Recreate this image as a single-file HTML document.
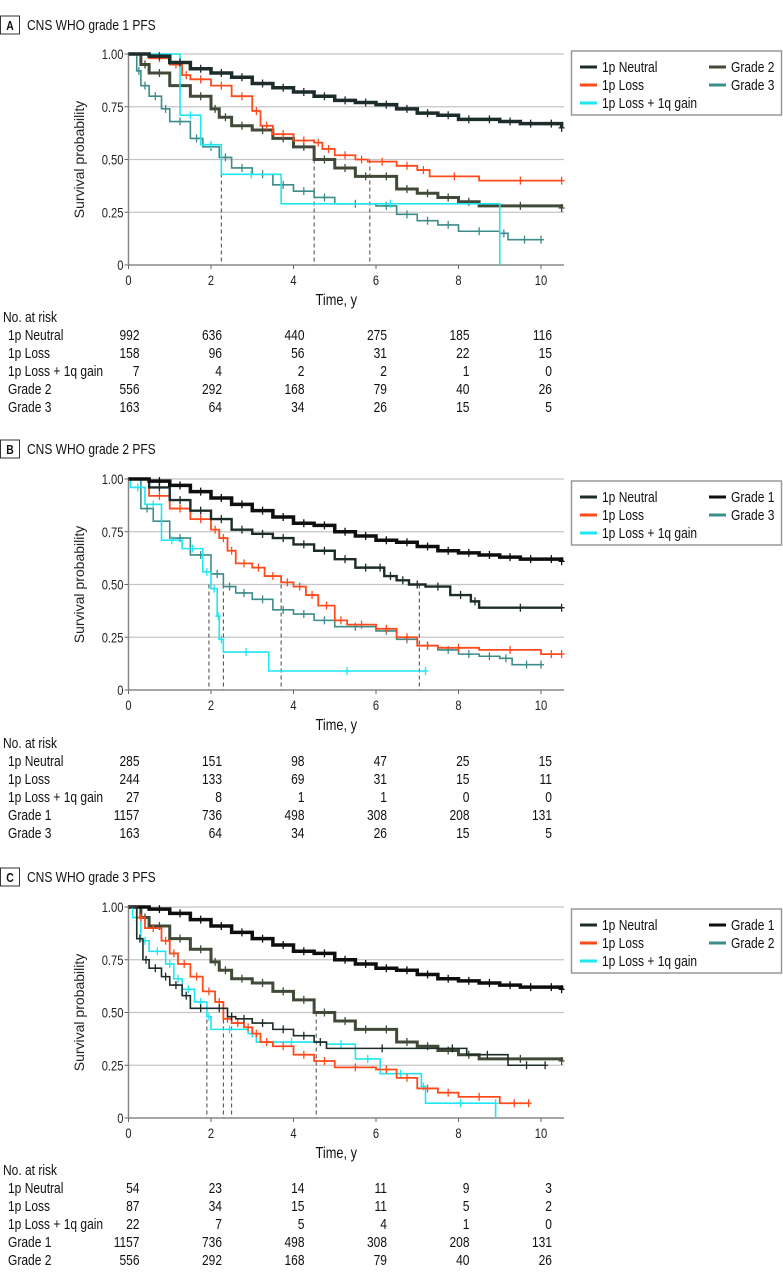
<!DOCTYPE html>
<html><head><meta charset="utf-8">
<style>
html,body{margin:0;padding:0;background:#fff;}
svg{display:block;font-family:"Liberation Sans Narrow","Liberation Sans",sans-serif;}
</style></head>
<body>
<svg id="fig" width="783" height="1277" viewBox="0 0 783 1277" xmlns="http://www.w3.org/2000/svg"></svg>
<script>
// ---------- data ----------
const tickYears = [0,2,4,6,8,10];
const yTickVals = [0,0.25,0.5,0.75,1];
const yTickLabels = ["0","0.25","0.50","0.75","1.00"];

// Panel A
const aNeutralT = [0,0.5,1,1.5,2,2.5,3,3.5,4,4.5,5,5.5,6,6.5,7,7.5,8,8.5,9,9.5,10,10.5];
const aNeutralS = [1,0.99,0.96,0.93,0.91,0.89,0.86,0.84,0.82,0.80,0.78,0.77,0.76,0.74,0.72,0.71,0.69,0.69,0.68,0.67,0.67,0.65];
const aLossT = [0,0.5,1,1.3,1.5,2,2.5,3,3.2,3.5,4,4.5,4.7,5,5.5,5.8,6.5,7,7.3,8.5,10.5];
const aLossS = [1,0.98,0.95,0.90,0.88,0.85,0.80,0.73,0.66,0.62,0.59,0.58,0.55,0.52,0.50,0.49,0.47,0.45,0.42,0.40,0.40];
const aGainT = [0,1.25,1.75,2.25,3.7,9];
const aGainS = [1,0.71,0.57,0.43,0.29,0];
const aG2T = [0,0.3,0.5,1,1.5,2,2.2,2.5,3,3.5,4,4.5,5,5.5,6,6.5,7,7.5,8,8.5,10.5];
const aG2S = [1,0.95,0.91,0.85,0.80,0.74,0.70,0.66,0.64,0.60,0.56,0.50,0.46,0.42,0.42,0.36,0.34,0.32,0.30,0.28,0.27];
const aG3T = [0,0.2,0.3,0.5,0.8,1,1.5,1.8,2.2,2.5,3,3.5,4,4.5,5,6,6.5,7,7.5,8,9,9.2,10];
const aG3S = [1,0.92,0.85,0.80,0.74,0.68,0.60,0.56,0.51,0.46,0.43,0.38,0.35,0.32,0.29,0.28,0.24,0.21,0.19,0.16,0.15,0.12,0.12];
const aMedians = [2.25,4.5,5.85];

// Panel B
const bNeutralT = [0,0.5,1,1.5,2,2.5,3,3.5,4,4.5,5,5.5,6,6.2,6.5,6.8,7.2,7.8,8.3,8.5,10.5];
const bNeutralS = [1,0.96,0.90,0.85,0.81,0.76,0.74,0.72,0.69,0.66,0.62,0.58,0.58,0.54,0.52,0.50,0.49,0.45,0.42,0.39,0.39];
const g1T = [0,0.5,1,1.5,2,2.5,3,3.5,4,4.5,5,5.5,6,6.5,7,7.5,8,8.5,9,9.5,10,10.5];
const g1S = [1,0.99,0.97,0.94,0.91,0.88,0.85,0.82,0.79,0.78,0.75,0.73,0.71,0.70,0.68,0.66,0.65,0.64,0.63,0.62,0.62,0.61];
const bLossT = [0,0.5,1,1.5,2,2.2,2.4,2.6,3,3.3,3.7,4,4.3,4.6,5,5.3,6,6.5,7,7.5,8.5,10,10.5];
const bLossS = [1,0.92,0.86,0.81,0.76,0.72,0.66,0.60,0.58,0.54,0.51,0.49,0.45,0.40,0.33,0.31,0.29,0.25,0.21,0.20,0.19,0.17,0.17];
const bGainT = [0,0.05,0.4,0.8,1.3,1.8,2,2.15,2.2,2.3,3.4,7.2];
const bGainS = [1,0.96,0.88,0.71,0.67,0.56,0.48,0.35,0.24,0.18,0.09,0.09];
const bG3T = [0,0.3,0.6,1,1.5,2,2.3,2.6,3,3.5,4,4.5,5,6,6.5,7,7.5,8,8.5,9,9.3,10];
const bG3S = [1,0.86,0.80,0.72,0.64,0.55,0.49,0.46,0.43,0.38,0.36,0.33,0.30,0.28,0.24,0.21,0.19,0.17,0.16,0.15,0.12,0.12];
const bMedians = [1.95,2.3,3.7,7.05];

// Panel C
const cNeutralT = [0,0.2,0.35,0.5,0.8,1,1.3,1.5,2,2.4,2.6,3,3.5,4,4.5,4.8,7.5,8.2,9.2,10.1];
const cNeutralS = [1,0.85,0.75,0.71,0.67,0.63,0.58,0.52,0.52,0.48,0.47,0.45,0.42,0.39,0.36,0.33,0.33,0.30,0.25,0.25];
const cLossT = [0,0.2,0.4,0.8,1,1.2,1.5,1.8,2.1,2.3,2.5,2.8,3,3.2,3.5,4,4.5,5,6,6.5,7,7.5,8,9,9.7];
const cLossS = [1,0.95,0.90,0.84,0.78,0.73,0.67,0.60,0.55,0.47,0.45,0.43,0.40,0.36,0.34,0.30,0.27,0.24,0.23,0.19,0.14,0.12,0.10,0.07,0.07];
const cGainT = [0,0.1,0.3,0.5,0.9,1.1,1.3,1.6,1.9,2,2.9,3.1,4.8,5.5,6.1,7.1,7.2,8.9,8.9];
const cGainS = [1,0.95,0.84,0.79,0.73,0.66,0.61,0.55,0.48,0.42,0.40,0.36,0.35,0.28,0.21,0.15,0.07,0.07,0];
const cMedians = [1.9,2.3,2.5,4.55];

// at-risk tables
const riskA = [["1p Neutral",[992,636,440,275,185,116]],["1p Loss",[158,96,56,31,22,15]],["1p Loss + 1q gain",[7,4,2,2,1,0]],["Grade 2",[556,292,168,79,40,26]],["Grade 3",[163,64,34,26,15,5]]];
const riskB = [["1p Neutral",[285,151,98,47,25,15]],["1p Loss",[244,133,69,31,15,11]],["1p Loss + 1q gain",[27,8,1,1,0,0]],["Grade 1",[1157,736,498,308,208,131]],["Grade 3",[163,64,34,26,15,5]]];
const riskC = [["1p Neutral",[54,23,14,11,9,3]],["1p Loss",[87,34,15,11,5,2]],["1p Loss + 1q gain",[22,7,5,4,1,0]],["Grade 1",[1157,736,498,308,208,131]],["Grade 2",[556,292,168,79,40,26]]];

// ---------- drawing ----------
const NS="http://www.w3.org/2000/svg";
const svg=document.getElementById('fig');
const C={neutral:"#1c2c2a",loss:"#ff4a1c",gain:"#1ee6f2",g1:"#0e0e0e",g2:"#414a38",g3:"#3c8c8a"};
function el(tag,attrs,parent,txt){const e=document.createElementNS(NS,tag);for(const k in attrs)e.setAttribute(k,attrs[k]);if(txt!==undefined)e.textContent=txt;(parent||svg).appendChild(e);return e;}
const X0=128.5, XS=41.25, XEND=564;
const sx=t=>X0+t*XS;

function panel(letter,title,top,y1,y0,curves,medians,legend,risk,rowY){
  const g=el('g',{});
  
  
  const sy=v=>y0-(y0-y1)*v;
  const tb=el('rect',{x:0.5,y:top,width:19,height:18,fill:'#fff',stroke:'#333','stroke-width':1},g);
  
  const tl=el('text',{x:10,y:top+14,'text-anchor':'middle','font-size':13,'font-weight':'bold',fill:'#111'},g,letter);
  
  const tt=el('text',{x:27,y:top+14,'font-size':15,fill:'#111'},g,title);
  
  yTickVals.forEach((v,i)=>{
    if(v>0){const gl=el('line',{x1:X0,x2:XEND,y1:sy(v),y2:sy(v),stroke:'#c4c4c4','stroke-width':1.3},g);
      }
    const tk=el('line',{x1:X0-4,x2:X0,y1:sy(v),y2:sy(v),stroke:'#666'},g);
    
    const lb=el('text',{x:X0-5,y:sy(v)+5,'text-anchor':'end','font-size':14,fill:'#222'},g,yTickLabels[i]);
    
  });
  const ax=el('line',{x1:X0,x2:XEND,y1:y0,y2:y0,stroke:'#888','stroke-width':1.5},g);
  
  const ay=el('line',{x1:X0,x2:X0,y1:y1-2,y2:y0,stroke:'#888','stroke-width':1.5},g);
  
  tickYears.forEach(t=>{
    const tk=el('line',{x1:sx(t),x2:sx(t),y1:y0,y2:y0+4,stroke:'#666'},g);
    
    const lb=el('text',{x:sx(t),y:y0+20,'text-anchor':'middle','font-size':14,fill:'#222'},g,String(t));
    
  });
  const xt=el('text',{x:(X0+XEND)/2-10,y:y0+40,'text-anchor':'middle','font-size':16,fill:'#111'},g,'Time, y');
  
  const ym=(y0+y1)/2;
  const yt=el('text',{x:0,y:0,transform:`translate(84,${ym}) rotate(-90)`,'text-anchor':'middle','font-size':14,fill:'#222','class':'wide'},g,'Survival probability');
  
  medians.forEach(m=>{
    const d=el('line',{x1:sx(m),x2:sx(m),y1:sy(0.5),y2:y0,stroke:'#444','stroke-width':1,'stroke-dasharray':'4,3'},g);
    
  });
  curves.forEach(cv=>{
    let d=`M${sx(cv.t[0])},${sy(cv.s[0])}`;
    for(let i=1;i<cv.t.length;i++){d+=` H${sx(cv.t[i])} V${sy(cv.s[i])}`;}
    const p=el('path',{d:d,fill:'none',stroke:cv.c,'stroke-width':cv.w},g);
    
    for(let i=1;i<cv.t.length;i++){
      if(cv.s[i]<=0)continue;
      const tx=(cv.t[i]+(i+1<cv.t.length?cv.t[i+1]:cv.t[i]))/2;
      const cm=el('path',{d:`M${sx(tx)-3},${sy(cv.s[i])} h6 M${sx(tx)},${sy(cv.s[i])-4} v8`,stroke:cv.c,'stroke-width':1.3,fill:'none'},g);
      
    }
  });
  const ly=top+(letter==='A'?35:41);
  const lg=el('g',{},g);
  
  el('rect',{x:571.5,y:ly,width:210,height:64,fill:'#fff',stroke:'#999','stroke-width':1.5},lg);
  legend.forEach((it,i)=>{
    const col=i<3?0:1,row=i<3?i:i-3;
    const lx=col?709:580,yy=ly+16+row*18;
    const e=el('g',{},lg);
    
    el('line',{x1:lx,x2:lx+17,y1:yy,y2:yy,stroke:it[1],'stroke-width':3},e);
    el('text',{x:lx+22,y:yy+5,'font-size':15,fill:'#111'},e,it[0]);
  });
  const rt=el('g',{},g);
  
  el('text',{x:3,y:rowY-12,'font-size':15,fill:'#111'},rt,'No. at risk');
  risk.forEach((r,i)=>{
    const yy=rowY+6+i*18;
    const rg=el('g',{},rt);
    
    el('text',{x:8,y:yy,'font-size':15,fill:'#111'},rg,r[0]);
    r[1].forEach((n,j)=>{el('text',{x:sx(tickYears[j])+11,y:yy,'text-anchor':'end','font-size':15,fill:'#111'},rg,String(n));});
  });
}

panel('A','CNS WHO grade 1 PFS',16,54,265,[
  {n:'grade-3',t:aG3T,s:aG3S,c:C.g3,w:1.6},
  {n:'grade-2',t:aG2T,s:aG2S,c:C.g2,w:3},
  {n:'1p-loss-1q-gain',t:aGainT,s:aGainS,c:C.gain,w:1.6},
  {n:'1p-loss',t:aLossT,s:aLossS,c:C.loss,w:1.8},
  {n:'1p-neutral',t:aNeutralT,s:aNeutralS,c:C.neutral,w:3.5}],
  aMedians,[["1p Neutral",C.neutral],["1p Loss",C.loss],["1p Loss + 1q gain",C.gain],["Grade 2",C.g2],["Grade 3",C.g3]],riskA,334);

panel('B','CNS WHO grade 2 PFS',440,479,690,[
  {n:'grade-3',t:bG3T,s:bG3S,c:C.g3,w:1.6},
  {n:'1p-loss-1q-gain',t:bGainT,s:bGainS,c:C.gain,w:1.6},
  {n:'1p-loss',t:bLossT,s:bLossS,c:C.loss,w:1.8},
  {n:'1p-neutral',t:bNeutralT,s:bNeutralS,c:C.neutral,w:2.4},
  {n:'grade-1',t:g1T,s:g1S,c:C.g1,w:3.5}],
  bMedians,[["1p Neutral",C.neutral],["1p Loss",C.loss],["1p Loss + 1q gain",C.gain],["Grade 1",C.g1],["Grade 3",C.g3]],riskB,760);

panel('C','CNS WHO grade 3 PFS',868,907,1118,[
  {n:'grade-2',t:aG2T,s:aG2S,c:C.g2,w:3},
  {n:'grade-1',t:g1T,s:g1S,c:C.g1,w:3.5},
  {n:'1p-loss-1q-gain',t:cGainT,s:cGainS,c:C.gain,w:1.6},
  {n:'1p-loss',t:cLossT,s:cLossS,c:C.loss,w:1.8},
  {n:'1p-neutral',t:cNeutralT,s:cNeutralS,c:C.neutral,w:1.6}],
  cMedians,[["1p Neutral",C.neutral],["1p Loss",C.loss],["1p Loss + 1q gain",C.gain],["Grade 1",C.g1],["Grade 2",C.g3]],riskC,1187);

// condense text to mimic the narrow typeface
svg.querySelectorAll('text').forEach(t=>{
  if(t.getAttribute('class')==='wide')return;
  const w=t.getComputedTextLength();
  if(w>0){t.setAttribute('textLength',(w*0.8).toFixed(1));t.setAttribute('lengthAdjust','spacingAndGlyphs');}
});
</script>
</body></html>
